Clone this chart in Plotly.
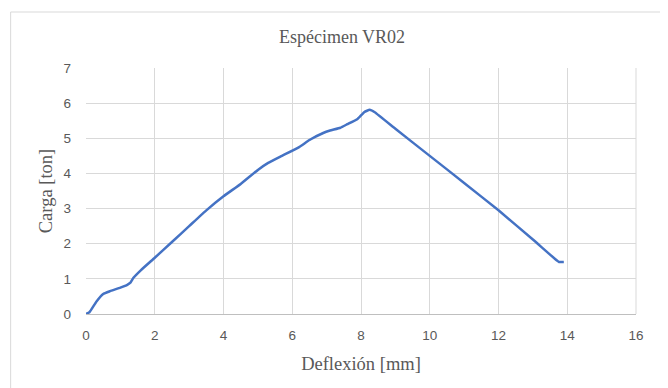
import plotly.graph_objects as go

deflexion = [0.0, 0.1, 0.3, 0.5, 0.7, 1.0, 1.2, 1.3, 1.38, 1.6, 2.0, 2.5, 3.0, 3.5, 4.0, 4.5,
             5.0, 5.3, 5.7, 6.2, 6.5, 6.9, 7.1, 7.4, 7.6, 7.9, 8.1, 8.25, 8.4, 9.0, 10.0,
             11.0, 12.0, 13.0, 13.7, 13.76, 13.9]
carga = [0.0, 0.05, 0.35, 0.57, 0.65, 0.75, 0.83, 0.9, 1.03, 1.25, 1.6, 2.05, 2.5, 2.95, 3.35, 3.7,
         4.1, 4.3, 4.5, 4.75, 4.95, 5.15, 5.22, 5.3, 5.4, 5.55, 5.75, 5.81, 5.74, 5.27, 4.5,
         3.73, 2.95, 2.12, 1.52, 1.48, 1.48]

x_ticks = [0, 2, 4, 6, 8, 10, 12, 14, 16]
y_ticks = [0, 1, 2, 3, 4, 5, 6, 7]

fig = go.Figure()
fig.add_trace(go.Scatter(x=deflexion, y=carga, mode="lines",
                         line=dict(color="#4472C4", width=2.5, shape="spline", smoothing=0.3),
                         showlegend=False, hoverinfo="skip"))

tick_font = dict(family="Liberation Sans, Arial", size=13.5, color="#595959")
title_font = dict(family="Liberation Serif, Times New Roman", size=18.5, color="#595959")

# page body has an 8px offset, compensate in margins
fig.update_layout(
    width=668, height=388,
    margin=dict(l=77.5, r=40, t=60, b=82),
    paper_bgcolor="white", plot_bgcolor="white",
    title=dict(text="Espécimen VR02", x=0.5, xanchor="center", y=0.925, yanchor="middle",
               font=dict(family="Liberation Serif, Times New Roman", size=18, color="#595959")),
    xaxis=dict(range=[0, 16], tickvals=x_ticks, ticktext=[str(v) for v in x_ticks],
               showgrid=True, gridcolor="#d9d9d9", gridwidth=1, zeroline=False,
               showline=True, linecolor="#bfbfbf", linewidth=1, mirror=False,
               ticks="", tickfont=tick_font, ticklabelstandoff=9,
               title=dict(text="Deflexión [mm]", font=title_font, standoff=14)),
    yaxis=dict(range=[0, 7], tickvals=y_ticks, ticktext=[str(v) for v in y_ticks],
               showgrid=True, gridcolor="#d9d9d9", gridwidth=1, zeroline=False,
               showline=False, ticks="", tickfont=tick_font, ticklabelstandoff=14,
               title=dict(text="Carga [ton]", font=title_font, standoff=6)),
    shapes=[
        dict(type="line", xref="paper", yref="paper", x0=1, x1=1, y0=0, y1=1,
             line=dict(color="#d9d9d9", width=1)),
        dict(type="rect", xref="paper", yref="paper", x0=-0.137, x1=1.047, y0=-0.4, y1=1.2276,
             line=dict(color="#d9d9d9", width=1), fillcolor="rgba(0,0,0,0)", layer="below"),
    ],
)

fig.write_html("out.html")
